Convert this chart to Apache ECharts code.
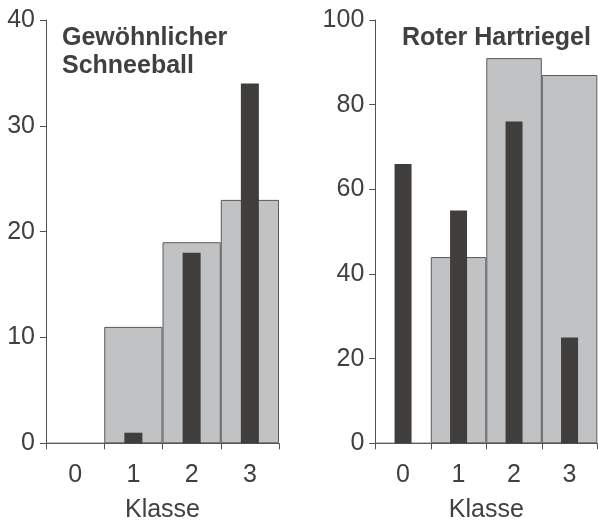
<!DOCTYPE html>
<html>
<head>
<meta charset="utf-8">
<script src="https://cdn.jsdelivr.net/npm/echarts@6/dist/echarts.min.js"></script>
<style>html,body{margin:0;padding:0;background:#fff}#c{width:598px;height:522px}</style>
</head>
<body>
<div id="c"></div>
<script>
var categories = ['0', '1', '2', '3'];
var leftTitle = 'Gewöhnlicher\nSchneeball';
var rightTitle = 'Roter Hartriegel';
var xName = 'Klasse';
var leftGray = [0, 11, 19, 23];
var leftDark = [0, 1, 18, 34];
var rightGray = [0, 44, 91, 87];
var rightDark = [66, 55, 76, 25];
var leftTicks = {min: 0, max: 40, interval: 10};
var rightTicks = {min: 0, max: 100, interval: 20};

var FONT = '"Liberation Sans", Arial, sans-serif';
var TXT = '#404040';
var AX = '#505050';
var GRAY = '#c1c2c4';
var DARK = '#403e3c';
var FS = 25;

function xAx(gi, show) {
  return {
    type: 'category', gridIndex: gi, data: categories, show: show,
    boundaryGap: true,
    axisLine: {show: true, lineStyle: {color: AX, width: 1}},
    axisTick: {show: true, length: 6, alignWithLabel: false, lineStyle: {color: AX}},
    axisLabel: {color: TXT, fontSize: FS, fontFamily: FONT, margin: 19},
    name: show ? xName : '', nameLocation: 'middle', nameGap: 54,
    nameTextStyle: {color: TXT, fontSize: FS, fontFamily: FONT}
  };
}
function yAx(gi, t) {
  return {
    type: 'value', gridIndex: gi, min: t.min, max: t.max, interval: t.interval,
    axisLine: {show: true, lineStyle: {color: AX, width: 1}},
    axisTick: {show: true, length: 6, lineStyle: {color: AX}},
    axisLabel: {color: TXT, fontSize: FS, fontFamily: FONT, margin: 11},
    splitLine: {show: false}
  };
}
var chart = echarts.init(document.getElementById('c'), null, {renderer: 'canvas'});
chart.setOption({
  animation: false,
  title: [
    {text: leftTitle, left: 62, top: 24, padding: 0, textStyle: {color: TXT, fontSize: 25, fontWeight: 'bold', fontFamily: FONT, lineHeight: 28}},
    {text: rightTitle, left: 402, top: 24, padding: 0, textStyle: {color: TXT, fontSize: 25, fontWeight: 'bold', fontFamily: FONT, lineHeight: 28}}
  ],
  grid: [
    {left: 46, top: 20, width: 233, height: 423.3, containLabel: false, outerBoundsMode: 'none'},
    {left: 375.3, top: 20, width: 222, height: 423.3, containLabel: false, outerBoundsMode: 'none'}
  ],
  xAxis: [xAx(0, true), xAx(0, false), xAx(1, true), xAx(1, false)],
  yAxis: [yAx(0, leftTicks), yAx(1, rightTicks)],
  series: [
    {type: 'bar', xAxisIndex: 0, yAxisIndex: 0, data: leftGray, barWidth: '100%', z: 1,
     itemStyle: {color: GRAY, borderColor: '#5a5a5a', borderWidth: 1}},
    {type: 'bar', xAxisIndex: 1, yAxisIndex: 0, data: leftDark, barWidth: 18, z: 3,
     itemStyle: {color: DARK}},
    {type: 'bar', xAxisIndex: 2, yAxisIndex: 1, data: rightGray, barWidth: '100%', z: 1,
     itemStyle: {color: GRAY, borderColor: '#5a5a5a', borderWidth: 1}},
    {type: 'bar', xAxisIndex: 3, yAxisIndex: 1, data: rightDark, barWidth: 17, z: 3,
     itemStyle: {color: DARK}}
  ]
});
</script>
</body>
</html>
